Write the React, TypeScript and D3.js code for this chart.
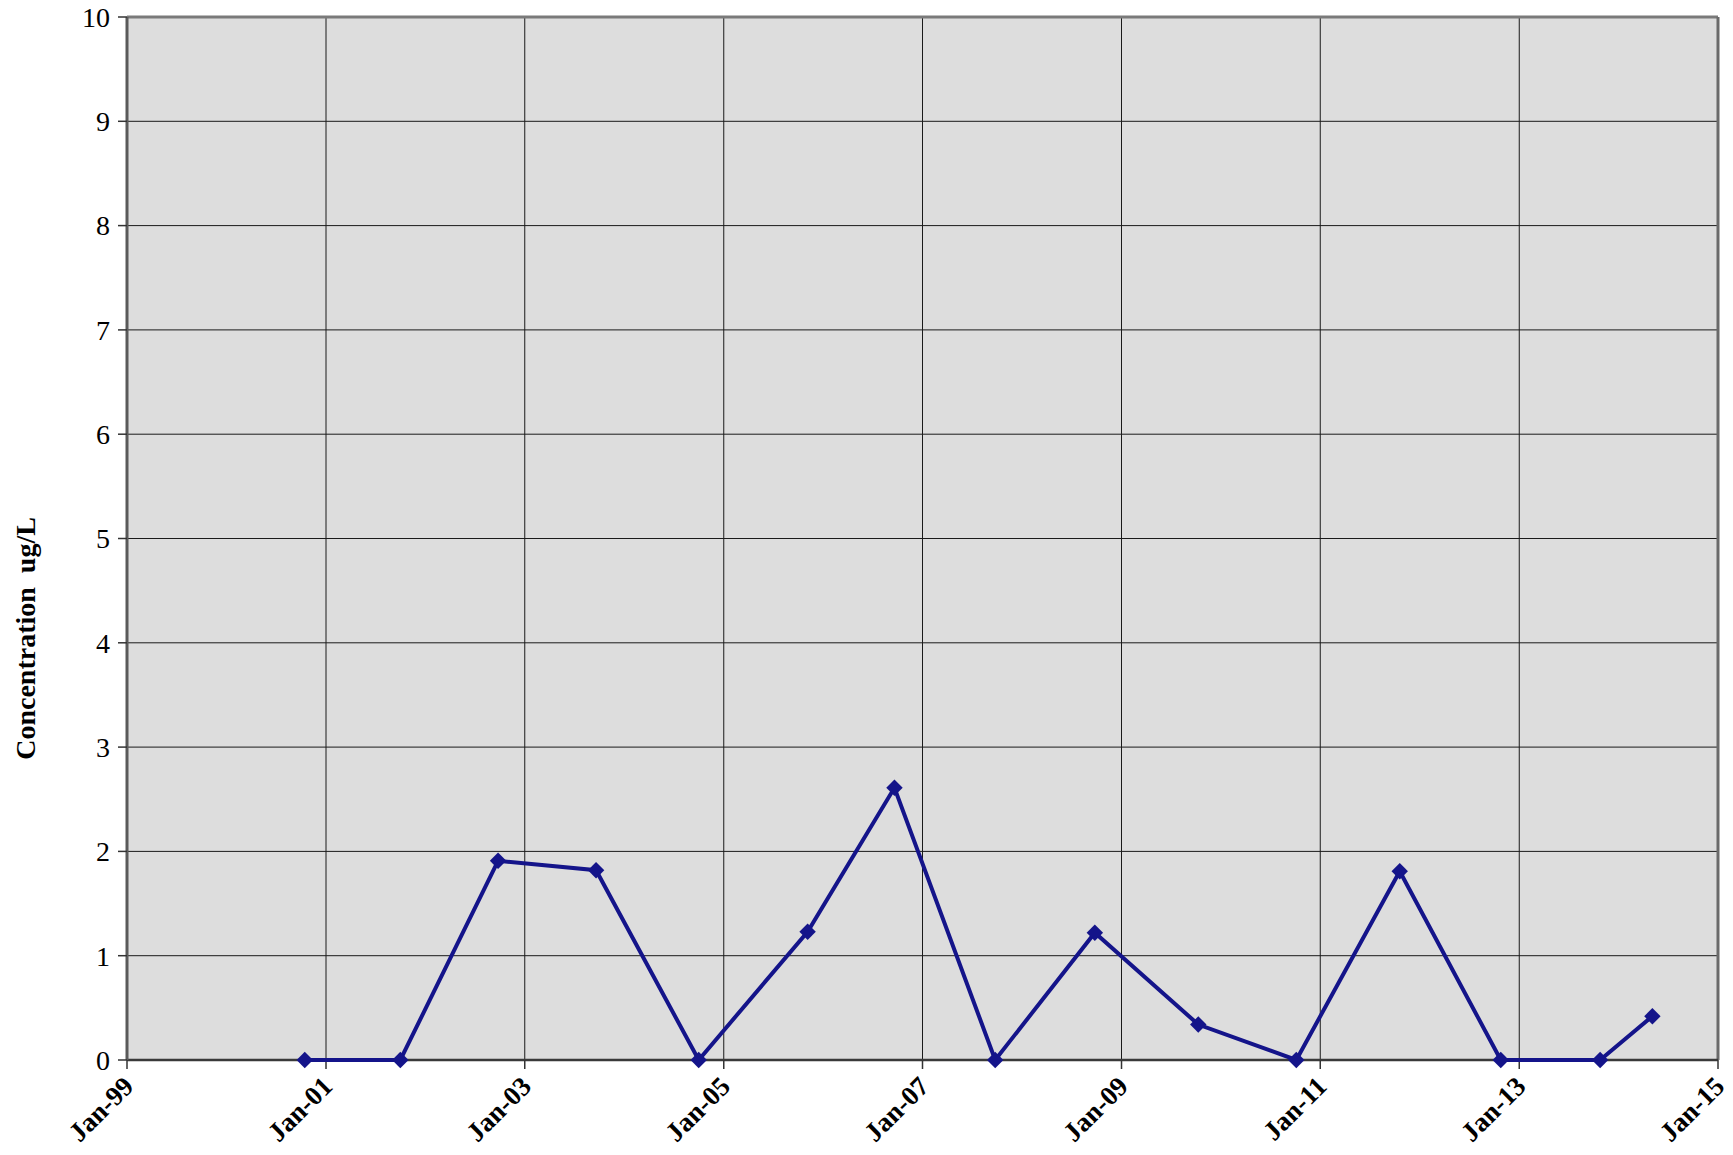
import { useEffect, useRef } from "react";
import * as d3 from "d3";

// sample dates and measured concentrations (ug/L)
const sampleDates = [
  "2000-10-15",
  "2001-10-01",
  "2002-09-25",
  "2003-09-20",
  "2004-10-01",
  "2005-11-05",
  "2006-09-20",
  "2007-09-25",
  "2008-09-25",
  "2009-10-10",
  "2010-10-05",
  "2011-10-20",
  "2012-10-25",
  "2013-10-25",
  "2014-05-05",
];
const concentrations = [
  0, 0, 1.91, 1.82, 0, 1.23, 2.61, 0, 1.22, 0.34, 0, 1.81, 0, 0, 0.42,
];

const xTickDates = [
  "1999-01-01",
  "2001-01-01",
  "2003-01-01",
  "2005-01-01",
  "2007-01-01",
  "2009-01-01",
  "2011-01-01",
  "2013-01-01",
  "2015-01-01",
];
const xTickLabels = [
  "Jan-99",
  "Jan-01",
  "Jan-03",
  "Jan-05",
  "Jan-07",
  "Jan-09",
  "Jan-11",
  "Jan-13",
  "Jan-15",
];
const yTicks = [0, 1, 2, 3, 4, 5, 6, 7, 8, 9, 10];

const yTitle = "Concentration\u00a0 ug/L";

export default function App() {
  const ref = useRef<SVGSVGElement>(null);

  useEffect(() => {
    const width = 1733;
    const height = 1155;
    const margin = { top: 17, right: 15, bottom: 95, left: 127 };
    const font = "'Liberation Serif', 'Times New Roman', serif";

    const svg = d3.select(ref.current);
    svg.selectAll("*").remove();

    const parse = d3.utcParse("%Y-%m-%d");
    const points = sampleDates.map((d, i) => ({
      date: parse(d) as Date,
      value: concentrations[i],
    }));
    const tickDates = xTickDates.map((d) => parse(d) as Date);

    const x = d3
      .scaleUtc()
      .domain([tickDates[0], tickDates[tickDates.length - 1]])
      .range([margin.left, width - margin.right]);
    const y = d3
      .scaleLinear()
      .domain([0, 10])
      .range([height - margin.bottom, margin.top]);

    const x0 = x.range()[0];
    const x1 = x.range()[1];
    const y0 = y.range()[0];
    const y1 = y.range()[1];

    // plot area
    svg
      .append("rect")
      .attr("x", x0)
      .attr("y", y1)
      .attr("width", x1 - x0)
      .attr("height", y0 - y1)
      .attr("fill", "#dddddd");

    // gridlines
    svg
      .append("g")
      .selectAll("line")
      .data(yTicks.slice(1, -1))
      .join("line")
      .attr("x1", x0)
      .attr("x2", x1)
      .attr("y1", (d) => y(d))
      .attr("y2", (d) => y(d))
      .attr("stroke", "#1a1a1a")
      .attr("stroke-width", 1);

    svg
      .append("g")
      .selectAll("line")
      .data(tickDates.slice(1, -1))
      .join("line")
      .attr("x1", (d) => x(d))
      .attr("x2", (d) => x(d))
      .attr("y1", y1)
      .attr("y2", y0)
      .attr("stroke", "#1a1a1a")
      .attr("stroke-width", 1);

    // frame
    svg
      .append("line")
      .attr("x1", x0)
      .attr("x2", x1)
      .attr("y1", y1)
      .attr("y2", y1)
      .attr("stroke", "#7a7a7a")
      .attr("stroke-width", 3);
    svg
      .append("line")
      .attr("x1", x1)
      .attr("x2", x1)
      .attr("y1", y1)
      .attr("y2", y0)
      .attr("stroke", "#6a6a6a")
      .attr("stroke-width", 3);
    svg
      .append("line")
      .attr("x1", x0)
      .attr("x2", x1)
      .attr("y1", y0)
      .attr("y2", y0)
      .attr("stroke", "#3a3a3a")
      .attr("stroke-width", 2.5);
    svg
      .append("line")
      .attr("x1", x0)
      .attr("x2", x0)
      .attr("y1", y1)
      .attr("y2", y0)
      .attr("stroke", "#5a5a5a")
      .attr("stroke-width", 3);

    // y axis ticks + labels
    const yAxis = svg.append("g");
    yAxis
      .selectAll("line")
      .data(yTicks)
      .join("line")
      .attr("x1", x0 - 9)
      .attr("x2", x0)
      .attr("y1", (d) => y(d))
      .attr("y2", (d) => y(d))
      .attr("stroke", "#333")
      .attr("stroke-width", 1.5);
    yAxis
      .selectAll("text")
      .data(yTicks)
      .join("text")
      .attr("x", x0 - 17)
      .attr("y", (d) => y(d))
      .attr("dy", "0.35em")
      .attr("text-anchor", "end")
      .attr("font-family", font)
      .attr("font-size", 28)
      .attr("fill", "#000")
      .text((d) => d);

    // x axis ticks + labels
    const xAxis = svg.append("g");
    xAxis
      .selectAll("line")
      .data(tickDates)
      .join("line")
      .attr("x1", (d) => x(d))
      .attr("x2", (d) => x(d))
      .attr("y1", y0)
      .attr("y2", y0 + 9)
      .attr("stroke", "#333")
      .attr("stroke-width", 1.5);
    xAxis
      .selectAll("text")
      .data(tickDates)
      .join("text")
      .attr(
        "transform",
        (d) => `translate(${x(d) + 8},${y0 + 28}) rotate(-45)`,
      )
      .attr("text-anchor", "end")
      .attr("font-family", font)
      .attr("font-size", 27)
      .attr("font-weight", 700)
      .attr("fill", "#000")
      .text((_, i) => xTickLabels[i]);

    // y title
    svg
      .append("text")
      .attr("transform", `translate(35,${(y0 + y1) / 2 + 100}) rotate(-90)`)
      .attr("text-anchor", "middle")
      .attr("font-family", font)
      .attr("font-size", 28)
      .attr("font-weight", 700)
      .attr("fill", "#000")
      .text(yTitle);

    // series
    const line = d3
      .line<{ date: Date; value: number }>()
      .x((d) => x(d.date))
      .y((d) => y(d.value));

    svg
      .append("path")
      .datum(points)
      .attr("d", line)
      .attr("fill", "none")
      .attr("stroke", "#14148a")
      .attr("stroke-width", 4);

    svg
      .append("g")
      .selectAll("path")
      .data(points)
      .join("path")
      .attr("d", d3.symbol(d3.symbolSquare, 135)())
      .attr(
        "transform",
        (d) => `translate(${x(d.date)},${y(d.value)}) rotate(45)`,
      )
      .attr("fill", "#14148a");
  }, []);

  return (
    <svg
      ref={ref}
      width={1733}
      height={1155}
      style={{ position: "absolute", left: 0, top: 0, background: "#fff" }}
    />
  );
}
